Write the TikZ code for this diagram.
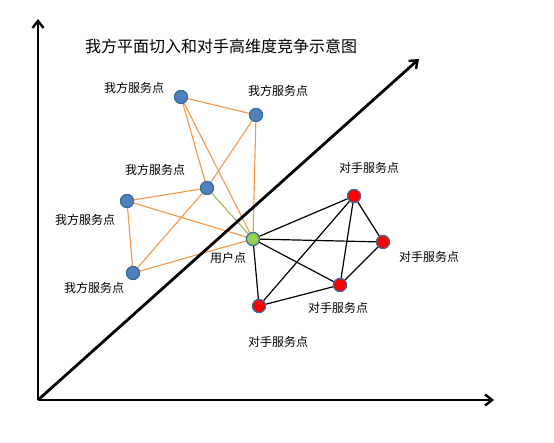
\documentclass[tikz,border=0pt]{standalone}
\usepackage{fontspec}
\setmainfont{Liberation Serif}
\newfontfamily\cjk{Noto Sans CJK SC}
\usetikzlibrary{arrows.meta}
\definecolor{nodeblue}{HTML}{4F81BD}
\definecolor{rimblue}{HTML}{3A6A9E}
\definecolor{orangeln}{HTML}{F79646}
\definecolor{greenln}{HTML}{9BBB59}
\definecolor{usergreen}{HTML}{92D050}
\tikzset{
  pt/.style={circle,draw=rimblue,line width=1.1pt,minimum size=13pt,inner sep=0pt},
  ours/.style={pt,fill=nodeblue},
  theirs/.style={pt,fill=red},
  user/.style={pt,fill=usergreen},
  lbl/.style={font=\cjk\fontsize{12}{14}\selectfont,inner sep=0pt},
  axis/.style={line width=2.8pt,-{Straight Barb[length=7pt,width=11pt,line width=2.4pt]}},
  oedge/.style={draw=orangeln,line width=1.1pt},
  gedge/.style={draw=greenln,line width=1.1pt},
  kedge/.style={draw=black,line width=1.2pt},
}
\begin{document}
\begin{tikzpicture}[x=1pt,y=-1pt]
\useasboundingbox (0,0) rectangle (554,443);
% title
\node[font=\cjk\fontsize{16}{18}\selectfont,inner sep=0pt] (title) at (221,46) {我方平面切入和对手高维度竞争示意图};
% axis coordinates
\coordinate (O) at (38,400);
\coordinate (Ytop) at (38,19);
\coordinate (Xend) at (494,400);
\coordinate (Dend) at (419,59);
% nodes
\node[ours] (b1) at (181,97) {};
\node[ours] (b2) at (256,115) {};
\node[ours] (b3) at (207,188) {};
\node[ours] (b4) at (127,201) {};
\node[ours] (b5) at (133,273) {};
\node[user] (g) at (253,239) {};
\node[theirs] (r1) at (354,196) {};
\node[theirs] (r2) at (383,242) {};
\node[theirs] (r3) at (340,285) {};
\node[theirs] (r4) at (259,306) {};
% orange edges
\begin{scope}[on background layer/.try]
\end{scope}
\path[oedge] (b1) -- (b2);
\path[oedge] (b1) -- (b3);
\path[oedge] (b1) -- (g);
\path[oedge] (b2) -- (g);
\path[oedge] (b2) -- (b3);
\path[oedge] (b3) -- (b4);
\path[oedge] (b3) -- (b5);
\path[oedge] (b4) -- (b5);
\path[oedge] (b4) -- (g);
\path[oedge] (b5) -- (g);
\path[gedge] (b3) -- (g);
% black edges
\path[kedge] (g) -- (r1);
\path[kedge] (g) -- (r2);
\path[kedge] (g) -- (r3);
\path[kedge] (g) -- (r4);
\path[kedge] (r1) -- (r2);
\path[kedge] (r1) -- (r3);
\path[kedge] (r1) -- (r4);
\path[kedge] (r2) -- (r3);
\path[kedge] (r3) -- (r4);
% axes
\draw[axis] (O) -- (Ytop);
\draw[axis] (O) -- (Xend);
\draw[axis] (O) -- (Dend);
% redraw nodes on top
\node[ours] at (b1) {};
\node[ours] at (b2) {};
\node[ours] at (b3) {};
\node[ours] at (b4) {};
\node[ours] at (b5) {};
\node[user] at (g) {};
\node[theirs] at (r1) {};
\node[theirs] at (r2) {};
\node[theirs] at (r3) {};
\node[theirs] at (r4) {};
% labels
\node[lbl] (lb1) at (134,88) {我方服务点};
\node[lbl] (lb2) at (278,91) {我方服务点};
\node[lbl] (lb3) at (155,170) {我方服务点};
\node[lbl] (lb4) at (85,220) {我方服务点};
\node[lbl] (lb5) at (94,288) {我方服务点};
\node[lbl] (lg) at (228,258) {用户点};
\node[lbl] (lr1) at (369,168) {对手服务点};
\node[lbl] (lr2) at (429,257) {对手服务点};
\node[lbl] (lr3) at (338,308) {对手服务点};
\node[lbl] (lr4) at (278,342) {对手服务点};
\end{tikzpicture}
\end{document}
